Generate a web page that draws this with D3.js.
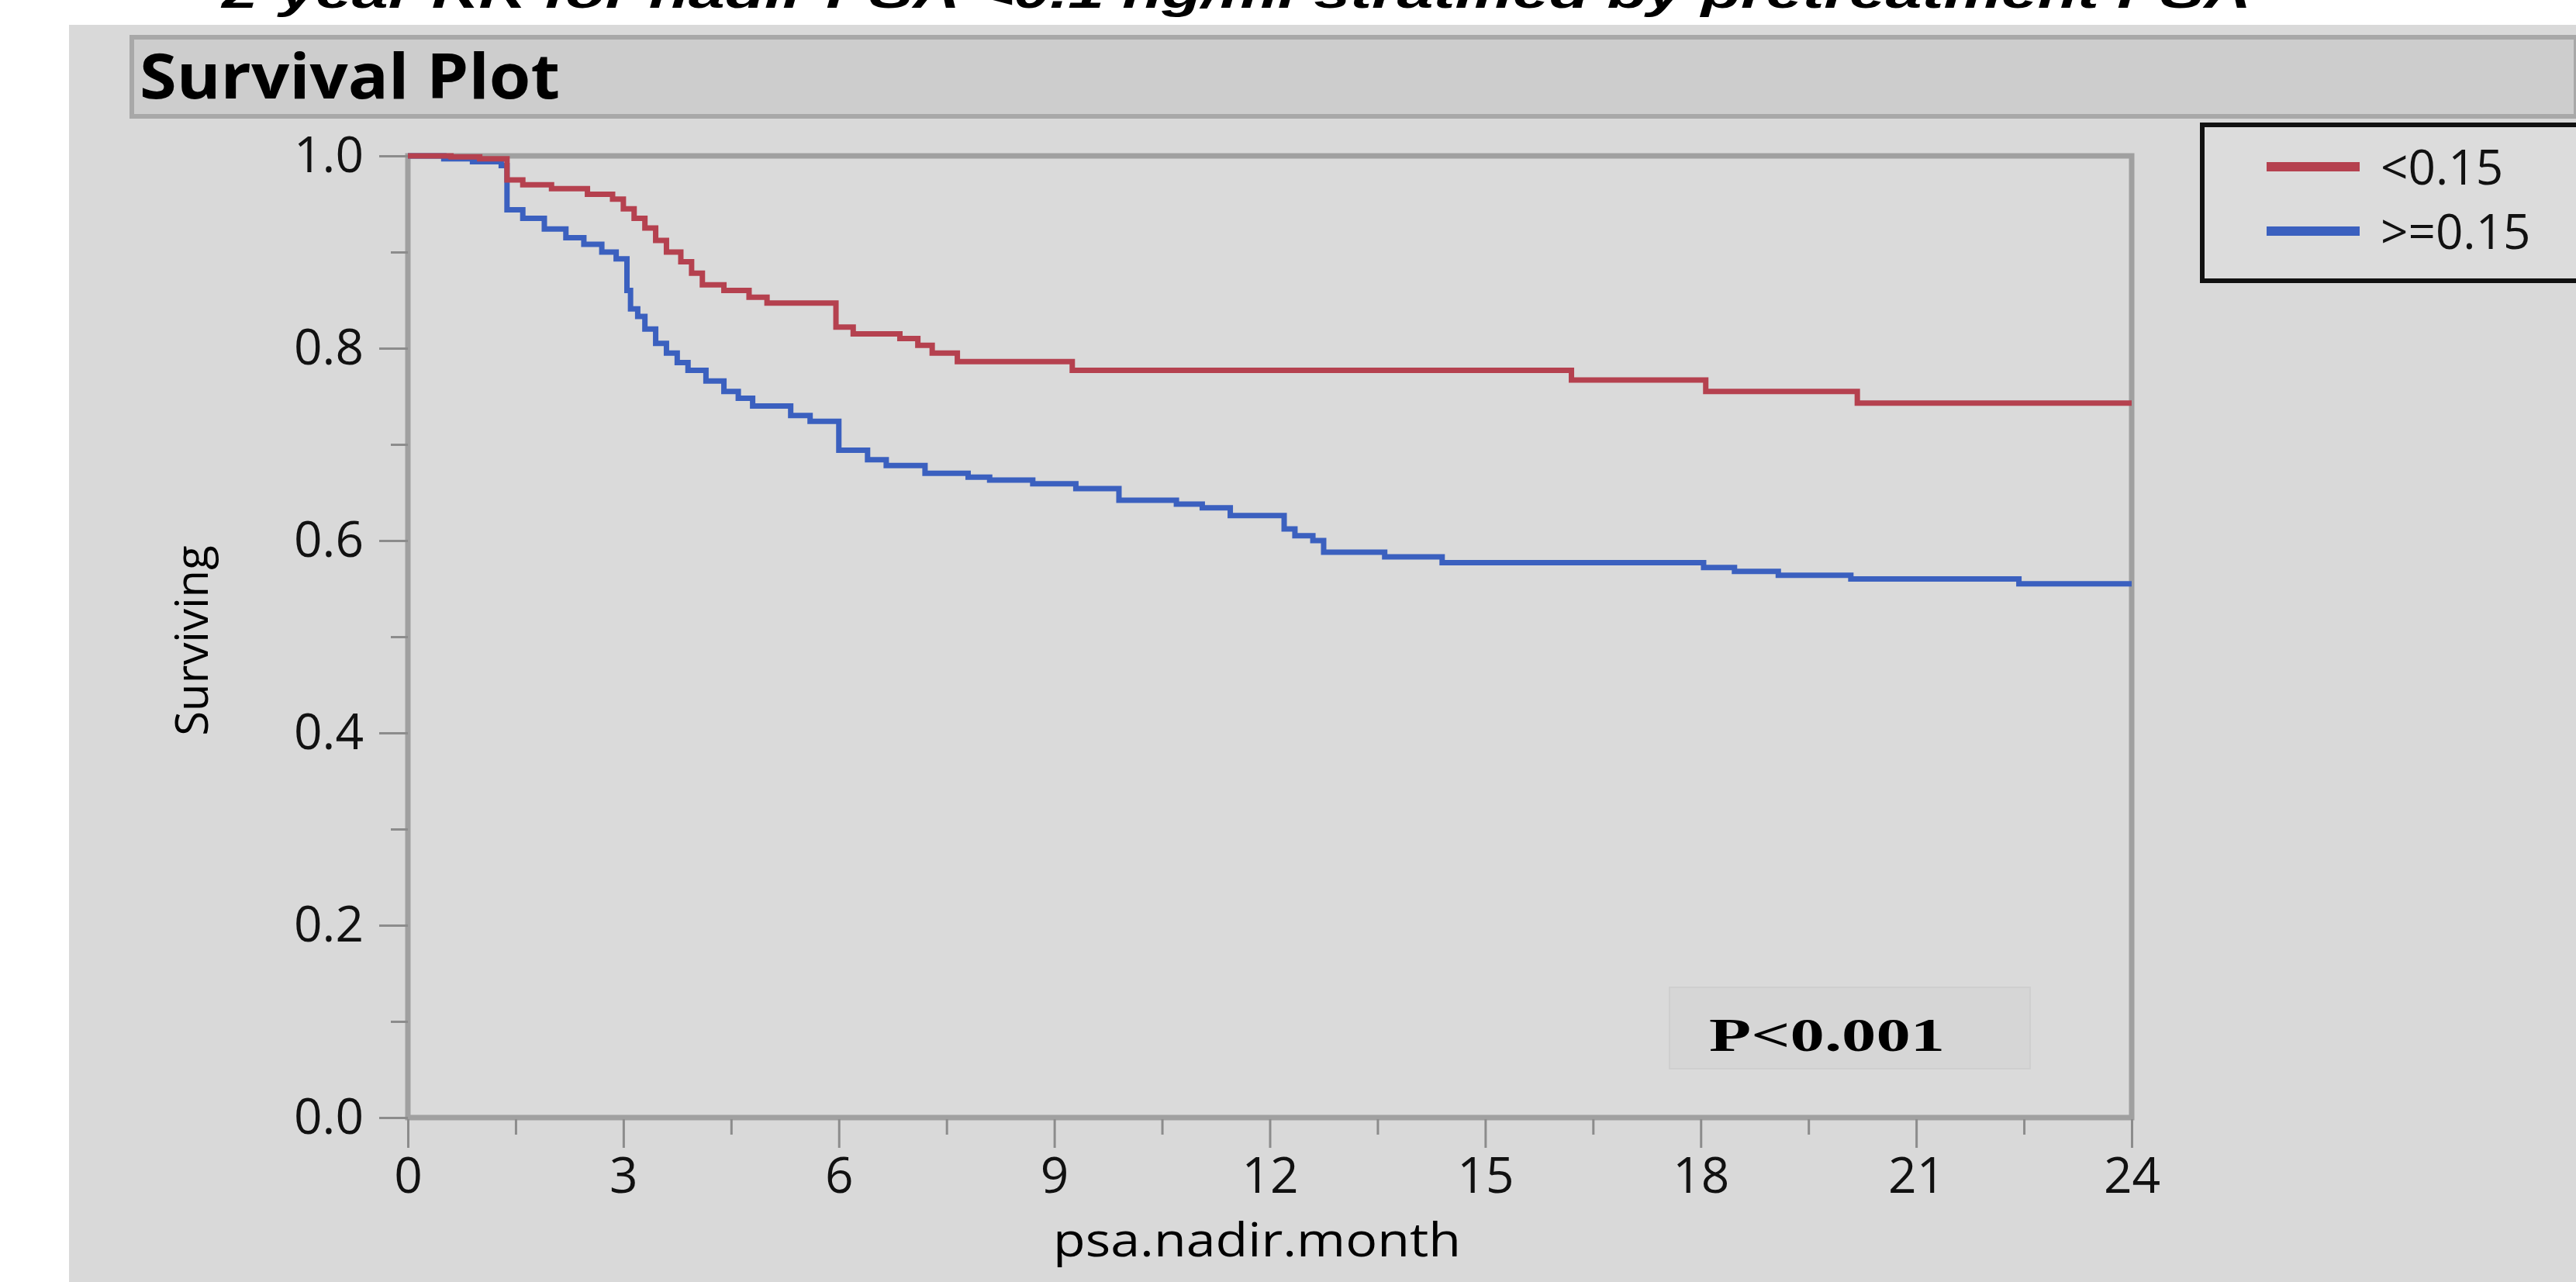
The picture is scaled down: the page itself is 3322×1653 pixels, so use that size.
<!DOCTYPE html>
<html>
<head>
<meta charset="utf-8">
<script src="https://cdn.jsdelivr.net/npm/d3@7"></script>
<style>
    body { margin: 0; background: #ffffff; }
    svg { display: block; }
</style>
</head>
<body>
<div id="chart"></div>
<script>
// Kaplan-Meier step values
const redTimes = [0, 0.6, 1.0, 1.38, 1.6, 2.0, 2.5, 2.85, 3.0, 3.15, 3.3, 3.45, 3.6, 3.8, 3.95, 4.1, 4.4, 4.75, 5.0, 5.96, 6.2, 6.85, 7.1, 7.3, 7.65, 9.25, 16.2, 18.07, 20.18, 24];
const redSurv  = [1.0, 0.999, 0.997, 0.975, 0.970, 0.966, 0.960, 0.955, 0.945, 0.935, 0.925, 0.912, 0.900, 0.890, 0.878, 0.866, 0.860, 0.853, 0.847, 0.822, 0.815, 0.810, 0.803, 0.795, 0.786, 0.777, 0.767, 0.755, 0.743, 0.743];

const blueTimes = [0, 0.5, 0.9, 1.3, 1.38, 1.6, 1.9, 2.2, 2.45, 2.7, 2.9, 3.05, 3.1, 3.2, 3.3, 3.45, 3.6, 3.75, 3.9, 4.15, 4.4, 4.6, 4.8, 5.33, 5.6, 6.0, 6.4, 6.66, 7.2, 7.8, 8.1, 8.7, 9.3, 9.9, 10.7, 11.06, 11.45, 12.2, 12.35, 12.6, 12.75, 13.6, 14.4, 18.04, 18.47, 19.08, 20.09, 22.43, 24];
const blueSurv  = [1.0, 0.997, 0.994, 0.990, 0.944, 0.935, 0.924, 0.915, 0.908, 0.900, 0.893, 0.860, 0.841, 0.833, 0.820, 0.805, 0.795, 0.785, 0.777, 0.766, 0.755, 0.748, 0.740, 0.730, 0.724, 0.694, 0.684, 0.678, 0.670, 0.666, 0.663, 0.659, 0.654, 0.642, 0.638, 0.634, 0.626, 0.612, 0.605, 0.600, 0.588, 0.583, 0.577, 0.572, 0.568, 0.564, 0.560, 0.555, 0.555];

const groupLabels = ["<0.15", ">=0.15"];
const groupColors = ["#b5414f", "#3b60bf"];
const xTicks = [0, 3, 6, 9, 12, 15, 18, 21, 24];
const xMinorTicks = [1.5, 4.5, 7.5, 10.5, 13.5, 16.5, 19.5, 22.5];
const yTicks = [0, 0.2, 0.4, 0.6, 0.8, 1.0];
const yMinorTicks = [0.1, 0.3, 0.5, 0.7, 0.9];

const W = 3322, H = 1653;
const plot = { left: 526, right: 2749, top: 201, bottom: 1441 };
const font = "'Open Sans', 'Noto Sans', sans-serif";

const svg = d3.select("#chart")
    .append("svg")
    .attr("width", W)
    .attr("height", H);

// page title, cut off at the top
svg.append("text")
    .attr("x", 286)
    .attr("y", 10)
    .attr("textLength", 2617)
    .attr("lengthAdjust", "spacingAndGlyphs")
    .style("font-family", "'Liberation Sans', Arial, sans-serif")
    .style("font-size", "58px")
    .style("font-weight", "bold")
    .style("font-style", "italic")
    .text("2-year RR for nadir PSA <0.1 ng/ml stratified by pretreatment PSA");

// report panel
svg.append("rect")
    .attr("x", 89).attr("y", 32)
    .attr("width", W - 89).attr("height", H - 32)
    .attr("fill", "#d9d9d9");

// outline header
svg.append("rect")
    .attr("x", 170).attr("y", 48)
    .attr("width", W - 170).attr("height", 102)
    .attr("fill", "#cdcdcd")
    .attr("stroke", "#a8a8a8")
    .attr("stroke-width", 6);

svg.append("text")
    .attr("x", 180)
    .attr("y", 127)
    .attr("textLength", 542)
    .attr("lengthAdjust", "spacingAndGlyphs")
    .style("font-family", font)
    .style("font-size", "80px")
    .style("font-weight", "bold")
    .text("Survival Plot");

const x = d3.scaleLinear().domain([0, 24]).range([plot.left, plot.right]);
const y = d3.scaleLinear().domain([0, 1]).range([plot.bottom, plot.top]);

// plot frame
svg.append("rect")
    .attr("x", x(0)).attr("y", y(1))
    .attr("width", x(24) - x(0)).attr("height", y(0) - y(1))
    .attr("fill", "#dadada")
    .attr("stroke", "#a0a0a0")
    .attr("stroke-width", 7);

function styleAxis(g) {
    g.select(".domain").remove();
    g.selectAll(".tick line").attr("stroke", "#8c8c8c").attr("stroke-width", 3);
    g.selectAll(".tick text")
        .style("font-family", font)
        .style("font-size", "64px")
        .attr("fill", "#111");
}

// x axis
svg.append("g")
    .attr("transform", `translate(0, ${y(0) + 2})`)
    .call(d3.axisBottom(x).tickValues(xTicks).tickSize(37).tickPadding(13))
    .call(styleAxis);

svg.append("g")
    .attr("transform", `translate(0, ${y(0) + 2})`)
    .call(d3.axisBottom(x).tickValues(xMinorTicks).tickSize(20).tickFormat(""))
    .call(styleAxis);

// y axis
svg.append("g")
    .attr("transform", `translate(${x(0)}, 0)`)
    .call(d3.axisLeft(y).tickValues(yTicks).tickSize(37).tickPadding(20).tickFormat(d3.format(".1f")))
    .call(styleAxis);

svg.append("g")
    .attr("transform", `translate(${x(0)}, 0)`)
    .call(d3.axisLeft(y).tickValues(yMinorTicks).tickSize(22).tickFormat(""))
    .call(styleAxis);

svg.append("text")
    .attr("x", 1621)
    .attr("y", 1620)
    .attr("text-anchor", "middle")
    .style("font-family", font)
    .style("font-size", "60px")
    .attr("textLength", 526)
    .attr("lengthAdjust", "spacingAndGlyphs")
    .text("psa.nadir.month");

svg.append("text")
    .attr("transform", "translate(268, 826) rotate(-90)")
    .attr("text-anchor", "middle")
    .style("font-family", font)
    .style("font-size", "58px")
    .text("Surviving");

// survival curves
const series = [
    { label: groupLabels[0], color: groupColors[0], values: redTimes.map((t, i) => [t, redSurv[i]]) },
    { label: groupLabels[1], color: groupColors[1], values: blueTimes.map((t, i) => [t, blueSurv[i]]) }
];

const line = d3.line()
    .x(d => x(d[0]))
    .y(d => y(d[1]))
    .curve(d3.curveStepAfter);

svg.selectAll(".km")
    .data(series.slice().reverse())
    .enter().append("path")
    .attr("class", "km")
    .attr("d", d => line(d.values))
    .attr("fill", "none")
    .attr("stroke", d => d.color)
    .attr("stroke-width", 7)
    .attr("stroke-linejoin", "miter");

// p-value box
svg.append("rect")
    .attr("x", 2153).attr("y", 1273)
    .attr("width", 465).attr("height", 105)
    .attr("fill", "#d6d6d6")
    .attr("stroke", "#cfcfcf")
    .attr("stroke-width", 2);

svg.append("text")
    .attr("x", 2356)
    .attr("y", 1355)
    .attr("text-anchor", "middle")
    .attr("textLength", 304)
    .attr("lengthAdjust", "spacingAndGlyphs")
    .style("font-family", "'Liberation Serif', 'DejaVu Serif', serif")
    .style("font-size", "62px")
    .style("font-weight", "bold")
    .text("P<0.001");

// legend
svg.append("rect")
    .attr("x", 2840).attr("y", 161)
    .attr("width", 520).attr("height", 201)
    .attr("fill", "#dcdcdc")
    .attr("stroke", "#111")
    .attr("stroke-width", 6);

const legend = svg.selectAll(".legend")
    .data(series)
    .enter().append("g")
    .attr("class", "legend")
    .attr("transform", (d, i) => `translate(0, ${215 + i * 83})`);

legend.append("line")
    .attr("x1", 2923).attr("x2", 3043)
    .attr("stroke", d => d.color)
    .attr("stroke-width", 12);

legend.append("text")
    .attr("x", 3070)
    .attr("y", 23)
    .style("font-family", font)
    .style("font-size", "62px")
    .attr("fill", "#111")
    .text(d => d.label);
</script>
</body>
</html>
